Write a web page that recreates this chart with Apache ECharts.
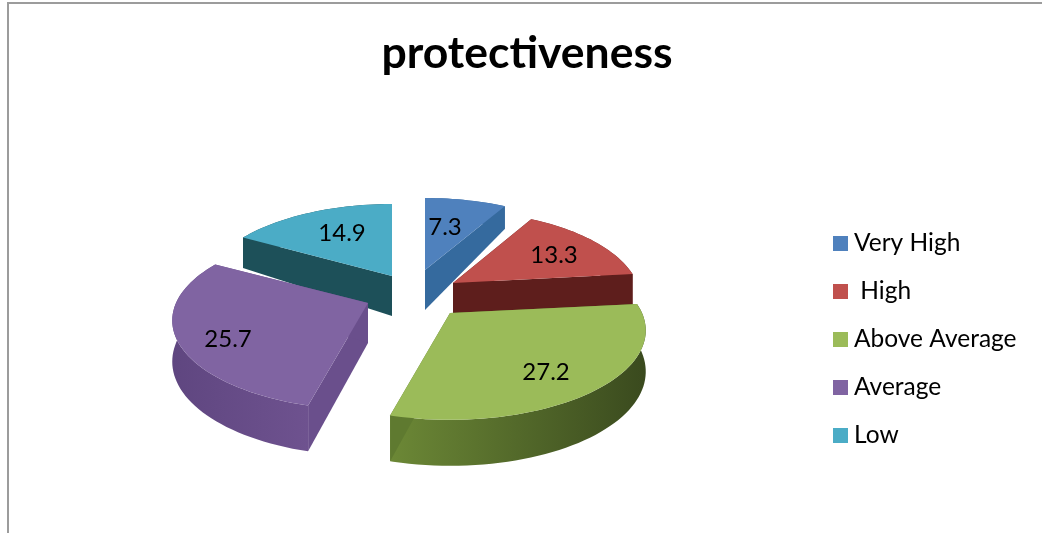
<!DOCTYPE html>
<html><head><meta charset="utf-8">
<style>html,body{margin:0;padding:0;background:#fff}#c{width:1042px;height:533px}</style>
<script src="https://cdn.jsdelivr.net/npm/echarts@6/dist/echarts.min.js"></script>
</head><body><div id="c"></div>
<script>
var titleText = 'protectiveness';
var categories = ['Very High', ' High', 'Above Average', 'Average', 'Low'];
var values = [7.3, 13.3, 27.2, 25.7, 14.9];
var colors = ['#4F81BD', '#C0504D', '#9BBB59', '#8064A2', '#4BACC6'];
var sideColors = ['#356A9E', '#5E1E1C', '#5F7A30', '#6A4F8C', '#1D5059'];
var wallStart = ['#3A6A9E', '#6E2826', '#3A4A1E', '#6E528F', '#1D5059'];
var wallEnd = ['#3A6A9E', '#6E2826', '#6C8836', '#5F4680', '#1D5059'];
// apex of every exploded slice on the page, and its horizontal squeeze
var apexX = [425, 453, 450, 368, 392];
var apexY = [270, 283, 313, 303, 276];
var squeeze = [0.98, 0.96, 1, 1, 0.975];
var labelX = [445, 554, 546, 228, 342];
var labelY = [227, 255, 372, 339, 233];
var drawOrder = [4, 0, 1, 3, 2];

var RA = 192, RB = 86, PERSP = 0.195, DEPTH = 40, STEP = 2;
var total = values.reduce(function (a, b) { return a + b; }, 0);
var starts = [];
values.reduce(function (a, v, i) { starts[i] = a; return a + v; }, 0);

function project(i, deg) {
  var t = deg * Math.PI / 180, X = Math.sin(t), Y = -Math.cos(t);
  var s = 1 / (1 - PERSP * Y);
  var d = DEPTH * (Y < 0 ? 1 + 0.49 * Y : 1 + 0.15 * Y);
  return { x: apexX[i] + RA * squeeze[i] * X * s, y: apexY[i] + RB * Y * s, d: d };
}
function renderSlice(i) {
  return function (params, api) {
    var from = starts[i] / total * 360;
    var to = from + api.value(0) / total * 360;
    var arc = [];
    for (var a = from; a < to; a += STEP) arc.push(project(i, a));
    arc.push(project(i, to));
    var top = arc.map(function (p) { return [p.x, p.y]; });
    var bottom = arc.map(function (p) { return [p.x, p.y + p.d]; });
    var apex = [apexX[i], apexY[i]], apexB = [apexX[i], apexY[i] + DEPTH];
    var first = arc[0], last = arc[arc.length - 1];
    var grad = { type: 'linear', x: 1, y: 0, x2: 0, y2: 0, global: false,
      colorStops: [{ offset: 0, color: wallStart[i] }, { offset: 1, color: wallEnd[i] }] };
    return { type: 'group', children: [
      { type: 'polygon', shape: { points: top.concat(bottom.slice().reverse()) }, style: { fill: grad } },
      { type: 'polygon', shape: { points: [apex, [first.x, first.y], [first.x, first.y + first.d], apexB] }, style: { fill: sideColors[i] } },
      { type: 'polygon', shape: { points: [apex, [last.x, last.y], [last.x, last.y + last.d], apexB] }, style: { fill: sideColors[i] } },
      { type: 'polygon', shape: { points: [apex].concat(top) }, style: { fill: colors[i] } },
      { type: 'text', z2: 100, style: { text: String(api.value(0)), x: labelX[i], y: labelY[i], align: 'center', verticalAlign: 'middle', fill: '#000', font: '24px Lato' } }
    ] };
  };
}
var series = drawOrder.map(function (i) {
  return {
    type: 'custom', name: categories[i], coordinateSystem: 'none',
    itemStyle: { color: colors[i] },
    renderItem: renderSlice(i),
    data: [{ name: categories[i], value: [values[i]] }],
    animation: false, silent: true
  };
});
var chart = echarts.init(document.getElementById('c'), null, { renderer: 'canvas' });
chart.setOption({
  animation: false,
  backgroundColor: '#fff',
  title: { text: titleText, left: 527, top: 31, padding: 0, textAlign: 'center',
    textStyle: { fontFamily: 'Lato', fontWeight: 'bold', fontSize: 44.5, color: '#000' } },
  legend: { data: categories, orient: 'vertical', left: 833, top: 231, padding: 0, itemWidth: 15, itemHeight: 15,
    itemGap: 23, icon: 'rect', selectedMode: false,
    textStyle: { fontFamily: 'Lato', fontSize: 24.5, lineHeight: 20, color: '#000', padding: [0, 0, 0, 1] } },
  graphic: [{ type: 'polyline', silent: true, shape: { points: [[8, 533], [8, 3], [1042, 3]] },
    style: { fill: 'none', stroke: '#9c9c9c', lineWidth: 2 } }],
  series: series
});
</script></body></html>
